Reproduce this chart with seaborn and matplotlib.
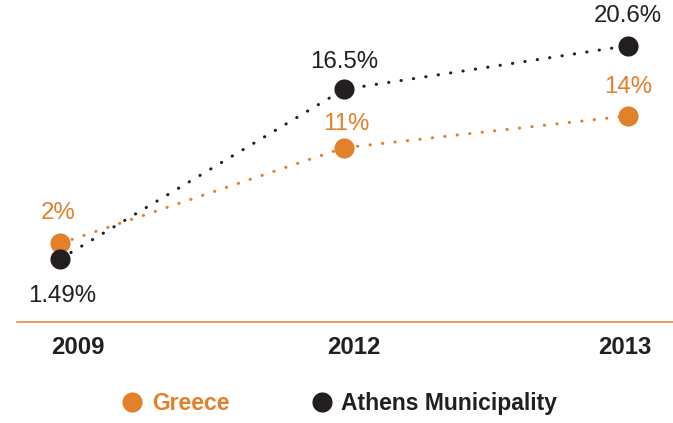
import matplotlib
matplotlib.use("Agg")
import matplotlib.pyplot as plt
import matplotlib.transforms as mtransforms
import numpy as np
import pandas as pd
import seaborn as sns
from matplotlib.lines import Line2D

sns.set_theme(style="white")
plt.rcParams["font.family"] = ["Liberation Sans", "DejaVu Sans"]

years = ["2009", "2012", "2013"]
greece = [2, 11, 14]
athens = [1.49, 16.5, 20.6]
greece_labels = ["2%", "11%", "14%"]
athens_labels = ["1.49%", "16.5%", "20.6%"]
series_names = ["Greece", "Athens Municipality"]

ORANGE = "#E2802B"
DARK = "#231F20"
pal = {"Greece": ORANGE, "Athens Municipality": DARK}

df = pd.DataFrame({
    "year": years * 2,
    "value": greece + athens,
    "series": [series_names[0]] * 3 + [series_names[1]] * 3,
})

fig = plt.figure(figsize=(6.73, 4.23), dpi=100)
ax = fig.add_axes([17 / 673, 101 / 423, 656 / 673, 322 / 423])

# the source chart is not to scale below 2%: stretch that part a little
K = 2.87
def fwd(v):
    v = np.asarray(v, dtype=float)
    return np.where(v < 2, 2 - (2 - v) * K, v)
def inv(u):
    u = np.asarray(u, dtype=float)
    return np.where(u < 2, 2 - (2 - u) / K, u)
ax.set_yscale("function", functions=(fwd, inv))

sns.lineplot(data=df, x="year", y="value", hue="series", hue_order=series_names,
             palette=pal, marker="o", markersize=14.5, markeredgewidth=0,
             linestyle=(0, (0.1, 4)), linewidth=2.2, dash_capstyle="round",
             sort=False, legend=False, ax=ax)

# value labels (offsets in points)
g_off = [(-1.5, 21.6), (1.5, 17), (0.5, 21)]
a_off = [(1.5, -26.6), (0, 19.4), (0, 21.6)]
for i, yr in enumerate(years):
    ax.annotate(greece_labels[i], (i, greece[i]), xytext=g_off[i], textcoords="offset points",
                ha="center", va="center", fontsize=17.3, color=ORANGE)
    ax.annotate(athens_labels[i], (i, athens[i]), xytext=a_off[i], textcoords="offset points",
                ha="center", va="center", fontsize=17.3, color=DARK)

ax.set_xlim(-0.152, 2.159)
ax.set_ylim(-0.575, 24.9)
ax.set_xlabel("")
ax.set_ylabel("")
ax.set_yticks([])
for s in ["top", "left", "right"]:
    ax.spines[s].set_visible(False)
ax.spines["bottom"].set_color(ORANGE)
ax.spines["bottom"].set_linewidth(1.1)
ax.tick_params(axis="x", length=0, pad=10, labelsize=17.2, colors=DARK)
# year labels sit a little off the points in the source
tick_shift = [18, 10, -3]
for t, dx in zip(ax.get_xticklabels(), tick_shift):
    t.set_fontweight("bold")
    t.set_transform(t.get_transform() + mtransforms.ScaledTranslation(dx / 100, 0, fig.dpi_scale_trans))
ax.grid(False)

handles = [Line2D([], [], marker="o", linestyle="", markersize=14.5,
                  markeredgewidth=0, color=pal[n]) for n in series_names]
leg = fig.legend(handles, series_names, loc="center", bbox_to_anchor=(0.504, 0.047),
                 ncol=2, frameon=False, handlelength=1.0,
                 handletextpad=0.37, columnspacing=3.5,
                 prop={"weight": "bold", "size": 16.5})
for txt, n in zip(leg.get_texts(), series_names):
    txt.set_color(pal[n])

fig.savefig("out.png", dpi=100)
